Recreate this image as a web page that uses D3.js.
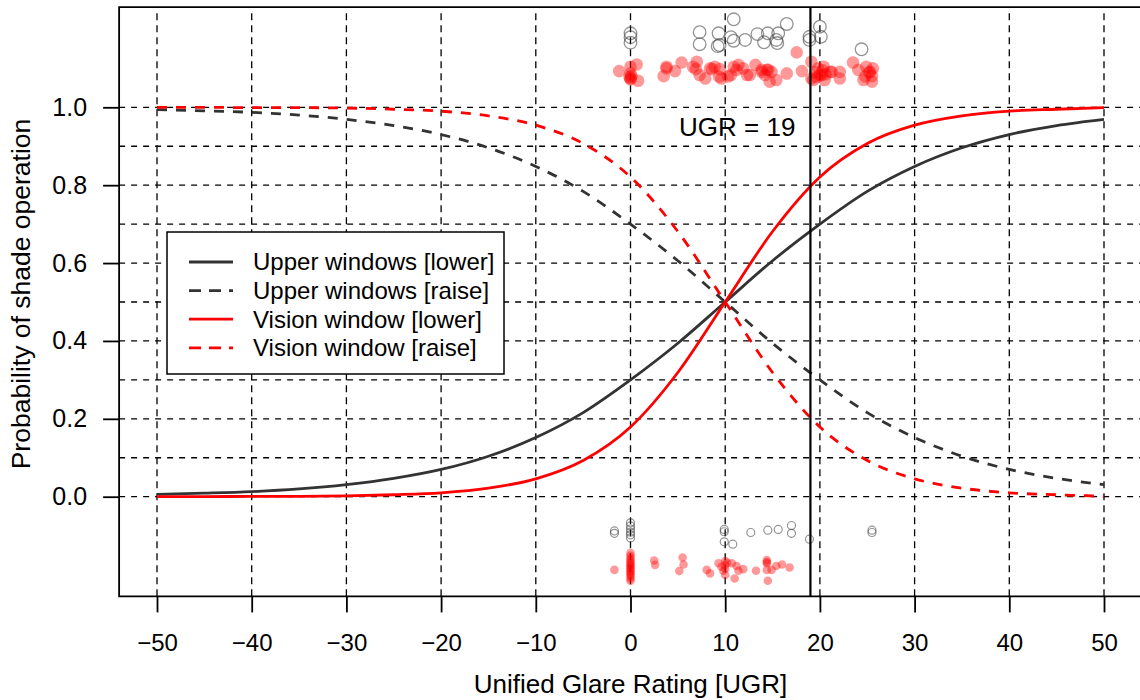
<!DOCTYPE html>
<html lang="en">
<head>
  <meta charset="UTF-8">
  <title>Probability of shade operation vs UGR</title>
  <style>
    body { margin: 0; background: #fff; }
    svg { display: block; font-family: 'Liberation Sans', Arial, Helvetica, sans-serif; }
  </style>
  <script src="https://d3js.org/d3.v7.min.js"></script>
</head>
<body>
  <div id="chart"></div>

  <script>
    // model curves, every 5 UGR
    const ugrSteps = [-50, -45, -40, -35, -30, -25, -20, -15, -10, -5, 0, 5, 10, 15, 20, 25, 30, 35, 40, 45, 50];
    const upperLower = [0.006, 0.009, 0.013, 0.020, 0.031, 0.047, 0.070, 0.104, 0.152, 0.216, 0.300, 0.394, 0.500, 0.606, 0.700, 0.784, 0.848, 0.896, 0.930, 0.953, 0.969];
    const upperRaise = [0.994, 0.991, 0.987, 0.980, 0.969, 0.953, 0.930, 0.896, 0.848, 0.784, 0.700, 0.606, 0.500, 0.394, 0.300, 0.216, 0.152, 0.104, 0.070, 0.047, 0.031];
    const visionLower = [0.000, 0.000, 0.001, 0.001, 0.002, 0.005, 0.010, 0.022, 0.046, 0.093, 0.179, 0.319, 0.500, 0.681, 0.821, 0.907, 0.954, 0.978, 0.990, 0.995, 0.999];
    const visionRaise = [1.000, 1.000, 0.999, 0.999, 0.998, 0.995, 0.990, 0.978, 0.954, 0.907, 0.821, 0.681, 0.500, 0.319, 0.179, 0.093, 0.046, 0.022, 0.010, 0.005, 0.001];

    const seriesNames = ["Upper windows [lower]", "Upper windows [raise]", "Vision window [lower]", "Vision window [raise]"];

    // observations (jittered), [UGR, plotted y]
    const upperObsTop = [[0, 1.19], [0, 1.18], [0, 1.166], [7.3, 1.193], [7.3, 1.162], [9.3, 1.19], [9.2, 1.157], [9.4, 1.16],
      [10.6, 1.18], [10.9, 1.171], [10.9, 1.226], [12.1, 1.173], [13.4, 1.188], [14.1, 1.167], [14.5, 1.19], [15.4, 1.173],
      [15.6, 1.19], [15.5, 1.165], [16.5, 1.214], [18.9, 1.181], [18.9, 1.173], [20.0, 1.207], [20.1, 1.181], [24.4, 1.149]];
    const visionObsTop = [[-1.2, 1.093], [0, 1.104], [0, 1.087], [0, 1.074], [0, 1.072], [0.1, 1.08], [-0.1, 1.078], [0.65, 1.110], [0.8, 1.068],
      [3.5, 1.080], [3.8, 1.100], [3.8, 1.104], [4.7, 1.093], [5.4, 1.115],
      [6.6, 1.104], [7.0, 1.117], [6.9, 1.098], [7.3, 1.083], [7.9, 1.074], [8.4, 1.100], [8.6, 1.098], [8.9, 1.104],
      [9.35, 1.079], [9.45, 1.098], [9.6, 1.074], [10.3, 1.079], [10.6, 1.083], [10.9, 1.104], [11.2, 1.096], [11.4, 1.109],
      [11.9, 1.100], [12.3, 1.083], [12.6, 1.083], [13.2, 1.109], [13.85, 1.091], [13.85, 1.096], [14.2, 1.083], [14.4, 1.096],
      [14.55, 1.096], [14.7, 1.066], [14.9, 1.091], [15.4, 1.070], [16.5, 1.087], [17.55, 1.141], [18.1, 1.093],
      [19.1, 1.117], [19.1, 1.074], [19.3, 1.070], [19.5, 1.09], [19.7, 1.078], [19.8, 1.100], [20.0, 1.083], [20.2, 1.083],
      [20.3, 1.095], [20.4, 1.104], [20.5, 1.070], [20.6, 1.085], [21.1, 1.091], [21.25, 1.091], [22.1, 1.091], [22.1, 1.074],
      [23.5, 1.115], [24.05, 1.096], [24.6, 1.070], [24.8, 1.079], [24.9, 1.104], [25.2, 1.09], [25.3, 1.091], [25.5, 1.066],
      [25.5, 1.080], [25.6, 1.1]];
    const upperObsBottom = [[-1.7, -0.088], [-1.7, -0.094], [0, -0.067], [0, -0.075], [0, -0.083], [0, -0.091], [0, -0.098], [0, -0.106],
      [9.9, -0.084], [9.9, -0.09], [9.9, -0.116], [10.8, -0.122], [12.7, -0.092], [14.5, -0.086], [15.6, -0.084],
      [17.0, -0.074], [17.0, -0.094], [18.9, -0.109], [25.5, -0.086], [25.5, -0.092]];
    const visionObsBottom = [[-1.7, -0.188],
      [0, -0.145], [0, -0.152], [0, -0.158], [0, -0.163], [0, -0.168], [0, -0.172], [0, -0.176], [0, -0.18], [0, -0.184],
      [0, -0.188], [0, -0.192], [0, -0.196], [0, -0.2], [0, -0.205], [0, -0.21], [0, -0.216],
      [2.5, -0.164], [2.6, -0.175], [5.5, -0.156], [5.6, -0.174], [5.15, -0.191],
      [8.05, -0.188], [8.4, -0.197], [9.3, -0.171], [9.6, -0.18], [10, -0.165], [10, -0.175], [10, -0.185], [10, -0.201],
      [9.8, -0.19], [10.2, -0.17], [10.7, -0.171], [11.2, -0.178], [11.0, -0.21], [11.9, -0.186], [11.4, -0.19],
      [13.25, -0.19], [14.4, -0.163], [14.4, -0.168], [14.4, -0.171], [14.5, -0.216], [14.4, -0.188], [14.9, -0.188],
      [15.4, -0.178], [16.0, -0.174], [16.8, -0.182]];

    const xTicks = [-50, -40, -30, -20, -10, 0, 10, 20, 30, 40, 50];
    const yTicks = [0, 0.2, 0.4, 0.6, 0.8, 1.0];
    const yGrid = [0, 0.1, 0.2, 0.3, 0.4, 0.5, 0.6, 0.7, 0.8, 0.9, 1.0];
    const ugrThreshold = 19;

    const width = 1140, height = 700;

    const x = d3.scaleLinear().domain([-50, 50]).range([157, 1104]);
    const y = d3.scaleLinear().domain([0, 1]).range([496.7, 107.3]);

    // R style plot region: 4% beyond the data range
    const plotLeft = x(-54), plotRight = x(54), plotTop = y(1.257), plotBottom = y(-0.256);

    const svg = d3.select("#chart")
      .append("svg")
      .attr("width", width)
      .attr("height", height);

    // grid
    svg.append("g")
      .selectAll("line")
      .data(xTicks)
      .join("line")
      .attr("x1", d => x(d)).attr("x2", d => x(d))
      .attr("y1", plotTop + 6).attr("y2", plotBottom)
      .attr("stroke", "#000")
      .attr("stroke-width", 1.3)
      .attr("stroke-dasharray", "7,5");

    svg.append("g")
      .selectAll("line")
      .data(yGrid)
      .join("line")
      .attr("x1", plotLeft).attr("x2", plotRight)
      .attr("y1", d => y(d)).attr("y2", d => y(d))
      .attr("stroke", "#000")
      .attr("stroke-width", 1.3)
      .attr("stroke-dasharray", "6,6");

    // observations
    const pts = svg.append("g");
    pts.selectAll(".ut")
      .data(upperObsTop)
      .join("circle")
      .attr("cx", d => x(d[0])).attr("cy", d => y(d[1]))
      .attr("r", 6.3)
      .attr("fill", "none")
      .attr("stroke", "rgba(60,60,60,0.55)")
      .attr("stroke-width", 1.3);
    pts.selectAll(".ub")
      .data(upperObsBottom)
      .join("circle")
      .attr("cx", d => x(d[0])).attr("cy", d => y(d[1]))
      .attr("r", 4)
      .attr("fill", "none")
      .attr("stroke", "rgba(60,60,60,0.55)")
      .attr("stroke-width", 1.2);
    pts.selectAll(".vt")
      .data(visionObsTop)
      .join("circle")
      .attr("cx", d => x(d[0])).attr("cy", d => y(d[1]))
      .attr("r", 6.3)
      .attr("fill", "rgba(255,0,0,0.4)");
    pts.selectAll(".vb")
      .data(visionObsBottom)
      .join("circle")
      .attr("cx", d => x(d[0])).attr("cy", d => y(d[1]))
      .attr("r", 4.3)
      .attr("fill", "rgba(255,0,0,0.4)");

    // curves
    const curves = [
      { name: seriesNames[0], values: upperLower, color: "#333333", dash: null },
      { name: seriesNames[1], values: upperRaise, color: "#333333", dash: "10,9" },
      { name: seriesNames[2], values: visionLower, color: "#ff0000", dash: null },
      { name: seriesNames[3], values: visionRaise, color: "#ff0000", dash: "10,9" }
    ];

    const line = d3.line()
      .x((d, i) => x(ugrSteps[i]))
      .y(d => y(d))
      .curve(d3.curveMonotoneX);

    svg.append("g")
      .selectAll("path")
      .data(curves)
      .join("path")
      .attr("d", d => line(d.values))
      .attr("fill", "none")
      .attr("stroke", d => d.color)
      .attr("stroke-width", 2.8)
      .attr("stroke-dasharray", d => d.dash);

    // UGR = 19 marker
    svg.append("line")
      .attr("x1", x(ugrThreshold)).attr("x2", x(ugrThreshold))
      .attr("y1", plotTop).attr("y2", plotBottom)
      .attr("stroke", "#000")
      .attr("stroke-width", 2.2);
    svg.append("text")
      .attr("x", x(ugrThreshold) - 15)
      .attr("y", y(0.95))
      .attr("dy", "0.35em")
      .attr("text-anchor", "end")
      .style("font-size", "26px")
      .text("UGR = " + ugrThreshold);

    // box
    svg.append("path")
      .attr("d", `M${plotRight},${plotTop}H${plotLeft}V${plotBottom}H${plotRight}`)
      .attr("fill", "none")
      .attr("stroke", "#000")
      .attr("stroke-width", 1.8);

    // axes
    const xAxis = svg.append("g")
      .attr("transform", `translate(0,${plotBottom})`)
      .call(d3.axisBottom(x).tickValues(xTicks).tickSize(16).tickPadding(22)
        .tickFormat(d => d < 0 ? "\u2212" + Math.abs(d) : d));
    xAxis.select(".domain").remove();
    xAxis.selectAll(".tick line").attr("stroke-width", 1.8);
    xAxis.selectAll("text").style("font-size", "24px").attr("fill", "#000").attr("font-family", null);

    const yAxis = svg.append("g")
      .attr("transform", `translate(${plotLeft},0)`)
      .call(d3.axisLeft(y).tickValues(yTicks).tickSize(16).tickPadding(16).tickFormat(d3.format(".1f")));
    yAxis.select(".domain").remove();
    yAxis.selectAll(".tick line").attr("stroke-width", 1.8);
    yAxis.selectAll("text").style("font-size", "25px").attr("fill", "#000").attr("font-family", null);

    svg.append("text")
      .attr("x", (plotLeft + plotRight) / 2)
      .attr("y", 684)
      .attr("dy", "0.35em")
      .attr("text-anchor", "middle")
      .style("font-size", "26px")
      .text("Unified Glare Rating [UGR]");

    svg.append("text")
      .attr("transform", "translate(21,294) rotate(-90)")
      .attr("dy", "0.35em")
      .attr("text-anchor", "middle")
      .style("font-size", "26.5px")
      .text("Probability of shade operation");

    // legend
    const legend = svg.append("g").attr("transform", "translate(167,232)");
    legend.append("rect")
      .attr("width", 337).attr("height", 142)
      .attr("fill", "#fff")
      .attr("stroke", "#000")
      .attr("stroke-width", 1.5);
    const rows = legend.selectAll(".row")
      .data(curves)
      .join("g")
      .attr("transform", (d, i) => `translate(0,${30 + i * 28.6})`);
    rows.append("line")
      .attr("x1", 22).attr("x2", 66)
      .attr("stroke", d => d.color)
      .attr("stroke-width", 2.8)
      .attr("stroke-dasharray", d => d.dash ? "12,8" : null);
    rows.append("text")
      .attr("x", 86)
      .attr("dy", "0.35em")
      .style("font-size", "24px")
      .text(d => d.name);
  </script>
</body>
</html>
